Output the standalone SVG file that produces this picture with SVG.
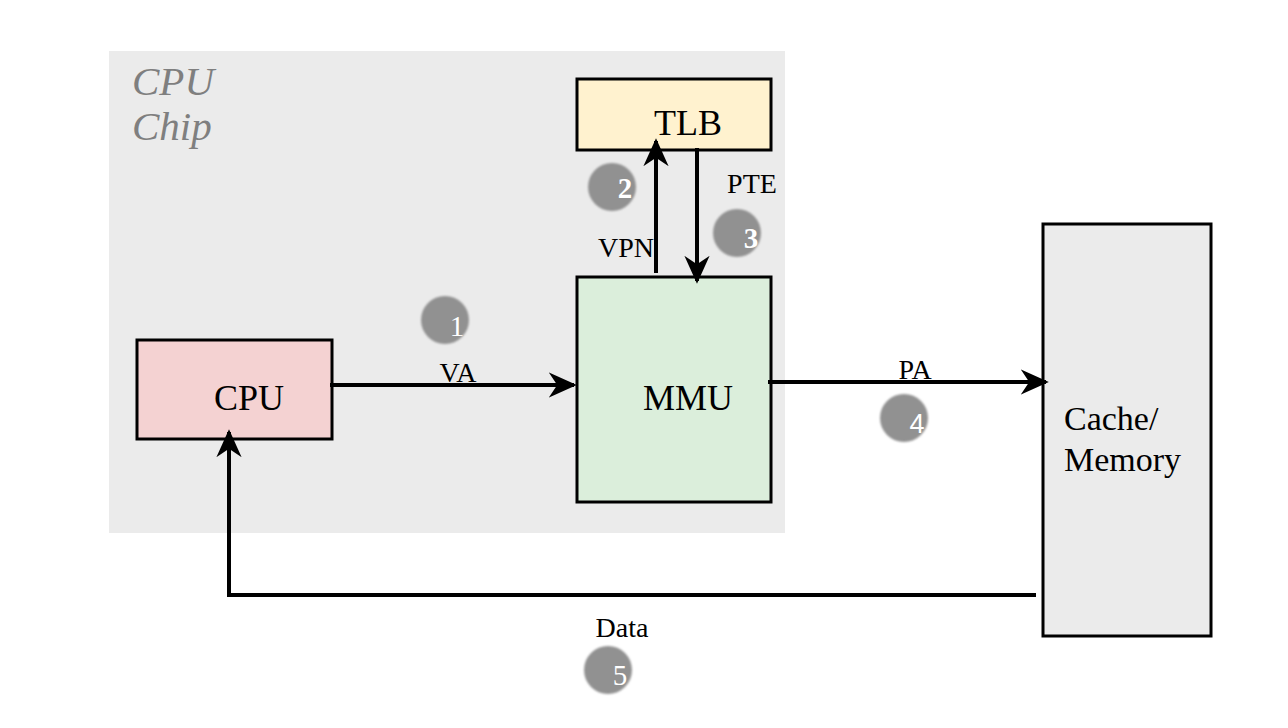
<svg xmlns="http://www.w3.org/2000/svg" width="1288" height="728" viewBox="0 0 1288 728">
<style>
.box{stroke:#000;stroke-width:3}
.lbl{font-family:"Liberation Serif",serif;fill:#000}
.big{font-size:36px}
.small{font-size:28px}
.conn{stroke:#000;stroke-width:4;fill:none}
.badge{fill:#919191}
.num{font-family:"Liberation Serif",serif;font-size:29px;fill:#fff}
</style>
<defs>
<marker id="ah2" viewBox="0 0 10 10" refX="9" refY="5" markerWidth="7" markerHeight="7" orient="auto">
<path d="M0,0.5 L10,5 L0,9.5 L3,5 Z" fill="#000"/>
</marker>
<filter id="soft" x="-20%" y="-20%" width="140%" height="140%"><feGaussianBlur stdDeviation="1"/></filter>
</defs>
<rect width="1288" height="728" fill="#fff"/>
<g id="chip">
<rect x="109" y="51" width="676" height="482" fill="#ebebeb"/>
<text x="132" y="95" font-family="Liberation Serif,serif" font-style="italic" font-size="41" fill="#7f7f7f">CPU</text>
<text x="132" y="140" font-family="Liberation Serif,serif" font-style="italic" font-size="41" fill="#7f7f7f">Chip</text>
</g>
<g id="tlb">
<rect class="box" x="577" y="79" width="194" height="71" fill="#fff2cf"/>
<text class="lbl big" x="688" y="135" text-anchor="middle">TLB</text>
</g>
<g id="cpu">
<rect class="box" x="137" y="340" width="195" height="99" fill="#f4d2d2"/>
<text class="lbl big" x="249" y="410" text-anchor="middle">CPU</text>
</g>
<g id="mmu">
<rect class="box" x="577" y="277" width="194" height="225" fill="#dbeedb"/>
<text class="lbl big" x="688" y="410" text-anchor="middle">MMU</text>
</g>
<g id="memory">
<rect class="box" x="1043" y="224" width="168" height="412" fill="#ebebeb"/>
<text class="lbl" font-size="34" x="1064" y="430">Cache/</text>
<text class="lbl" font-size="34" x="1064" y="471">Memory</text>
</g>
<g id="connectors">
<path class="conn" d="M330,385 H574" marker-end="url(#ah2)"/>
<path class="conn" d="M656,273 V141" marker-end="url(#ah2)"/>
<path class="conn" d="M697,148 V281" marker-end="url(#ah2)"/>
<path class="conn" d="M768,382 H1046" marker-end="url(#ah2)"/>
<path class="conn" d="M1036,595 H229 V432" marker-end="url(#ah2)"/>
<text class="lbl small" x="458" y="382" text-anchor="middle">VA</text>
<text class="lbl small" x="626" y="257" text-anchor="middle">VPN</text>
<text class="lbl small" x="752" y="193" text-anchor="middle">PTE</text>
<text class="lbl small" x="915" y="379" text-anchor="middle">PA</text>
<text class="lbl small" x="622" y="637" text-anchor="middle">Data</text>
</g>
<g id="badge1"><circle class="badge" cx="445" cy="320" r="24" filter="url(#soft)"/><text class="num" x="457" y="336" text-anchor="middle">1</text></g>
<g id="badge2"><circle class="badge" cx="612" cy="187" r="24" filter="url(#soft)"/><text class="num" x="625" y="198" text-anchor="middle" font-weight="bold">2</text></g>
<g id="badge3"><circle class="badge" cx="737" cy="233" r="24" filter="url(#soft)"/><text class="num" x="751" y="248" text-anchor="middle" font-weight="bold">3</text></g>
<g id="badge4"><circle class="badge" cx="904" cy="418" r="24" filter="url(#soft)"/><text x="917" y="433" text-anchor="middle" font-family="Liberation Sans,sans-serif" font-size="27" fill="#fff">4</text></g>
<g id="badge5"><circle class="badge" cx="608" cy="670" r="24" filter="url(#soft)"/><text class="num" x="620" y="685" text-anchor="middle">5</text></g>
</svg>
